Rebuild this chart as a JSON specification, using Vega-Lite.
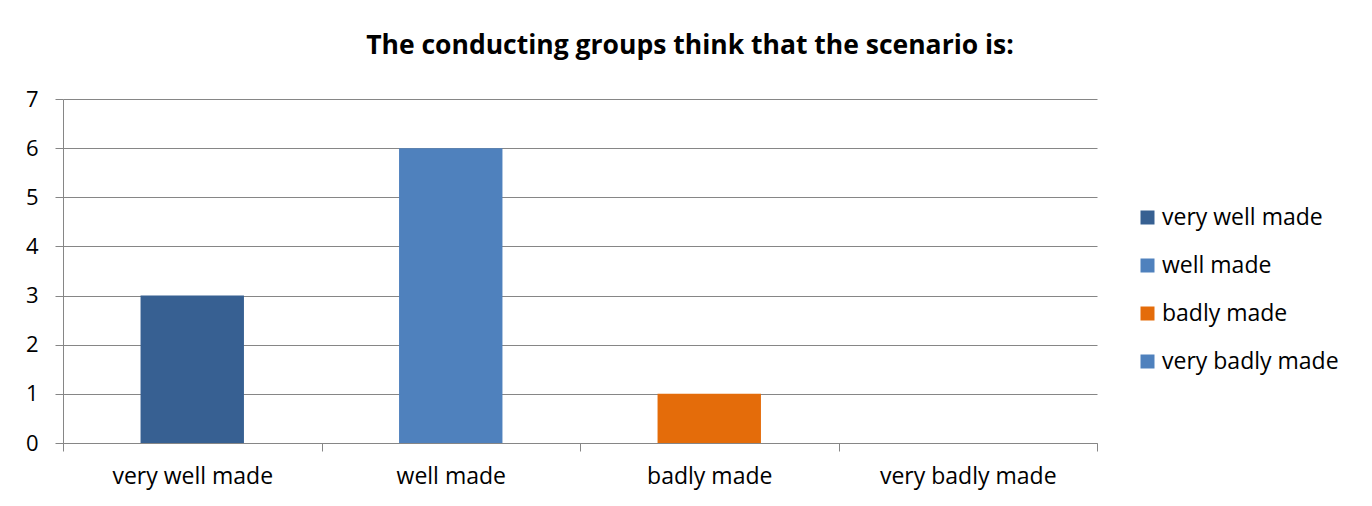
{
  "$schema": "https://vega.github.io/schema/vega-lite/v6.json",
  "autosize": {"type": "none"},
  "width": 1034,
  "height": 344,
  "padding": {"left": 63, "top": 99, "right": 275, "bottom": 63},
  "background": "white",
  "title": {
    "text": "The conducting groups think that the scenario is:",
    "anchor": "middle",
    "frame": "group",
    "dx": 110,
    "offset": 29,
    "font": "Open Sans",
    "fontSize": 26.5,
    "fontWeight": "bold",
    "color": "black"
  },
  "data": {
    "values": [
      {"rating": "very well made", "groups": 3},
      {"rating": "well made", "groups": 6},
      {"rating": "badly made", "groups": 1},
      {"rating": "very badly made", "groups": 0}
    ]
  },
  "layer": [
    {
      "mark": {"type": "bar"},
      "encoding": {
        "x": {
          "field": "rating",
          "type": "nominal",
          "sort": ["very well made", "well made", "badly made", "very badly made"],
          "scale": {"paddingInner": 0.6, "paddingOuter": 0.3},
          "axis": {
            "title": null,
            "orient": "bottom",
            "labelAngle": 0,
            "labelFont": "Open Sans",
            "labelFontSize": 23,
            "labelColor": "black",
            "labelPadding": 14,
            "tickSize": 8,
            "tickOffset": -129.25,
            "labelOffset": 129.25,
            "tickColor": "#868686",
            "domainColor": "#868686",
            "grid": false
          }
        },
        "y": {
          "field": "groups",
          "type": "quantitative",
          "scale": {"domain": [0, 7], "nice": false},
          "axis": {
            "title": null,
            "values": [0, 1, 2, 3, 4, 5, 6, 7],
            "labelFont": "Open Sans",
            "labelFontSize": 22,
            "labelColor": "black",
            "labelPadding": 17,
            "tickSize": 8,
            "tickColor": "#868686",
            "domainColor": "#868686",
            "gridColor": "#868686",
            "gridOpacity": 1
          }
        },
        "color": {
          "field": "rating",
          "type": "nominal",
          "sort": ["very well made", "well made", "badly made", "very badly made"],
          "scale": {
            "domain": ["very well made", "well made", "badly made", "very badly made"],
            "range": ["#376092", "#4F81BD", "#E46C0A", "#4F81BD"]
          },
          "legend": {
            "title": null,
            "orient": "none",
            "legendX": 1073,
            "legendY": 107,
            "symbolType": "square",
            "symbolSize": 196,
            "symbolStrokeWidth": 0,
            "labelFont": "Open Sans",
            "labelFontSize": 23,
            "labelColor": "black",
            "labelOffset": 3,
            "labelLimit": 300,
            "rowPadding": 24
          }
        }
      }
    },
    {
      "mark": {"type": "bar", "opacity": 0},
      "encoding": {
        "x": {
          "field": "rating",
          "type": "nominal",
          "sort": ["very well made", "well made", "badly made", "very badly made"],
          "scale": {"paddingInner": 0.6, "paddingOuter": 0.3},
          "axis": {
            "title": null,
            "orient": "bottom",
            "values": ["very badly made"],
            "labels": false,
            "domain": false,
            "grid": false,
            "tickSize": 8,
            "tickOffset": 129.25,
            "tickColor": "#868686"
          }
        },
        "y": {"field": "groups", "type": "quantitative"}
      }
    }
  ],
  "resolve": {"scale": {"x": "independent"}},
  "config": {"view": {"stroke": null}}
}
